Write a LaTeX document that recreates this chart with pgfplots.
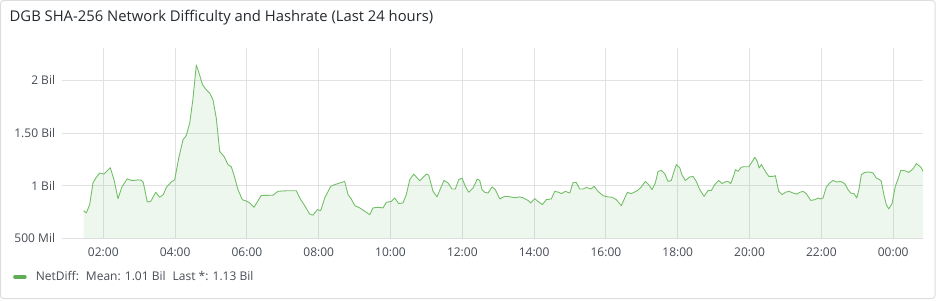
\documentclass[border=0pt]{standalone}
\usepackage{pgfplots}
\usepackage{pgfplotstable}
\pgfplotsset{compat=1.18}
\usepackage{fontspec}
\setmainfont{Open Sans}
\definecolor{gline}{HTML}{73BF69}
\definecolor{gleg}{HTML}{5FAE55}
\definecolor{gridc}{HTML}{E2E2E4}
\definecolor{frame}{HTML}{DDDDE0}
\definecolor{txt}{HTML}{24292E}
\definecolor{lbl}{HTML}{464C54}

\pgfplotstableread{
h v
1.454 0.763
1.526 0.74
1.621 0.82
1.713 1.026
1.805 1.08
1.900 1.12
2.019 1.11
2.195 1.17
2.298 1.057
2.409 0.877
2.521 0.99
2.669 1.066
2.780 1.05
2.855 1.05
2.967 1.055
3.058 1.052
3.114 1.03
3.226 0.845
3.320 0.85
3.460 0.937
3.571 0.89
3.671 0.915
3.755 0.984
3.894 1.035
3.989 1.057
4.100 1.26
4.220 1.436
4.312 1.477
4.407 1.594
4.499 1.83
4.591 2.147
4.657 2.08
4.763 1.96
4.869 1.91
4.964 1.88
5.056 1.815
5.148 1.64
5.242 1.325
5.362 1.278
5.474 1.2
5.565 1.18
5.641 1.10
5.752 0.962
5.872 0.867
6.011 0.85
6.078 0.836
6.198 0.795
6.401 0.908
6.588 0.908
6.727 0.91
6.866 0.946
7.006 0.95
7.145 0.952
7.376 0.952
7.471 0.883
7.591 0.82
7.749 0.73
7.841 0.72
7.961 0.773
8.056 0.763
8.167 0.883
8.334 0.994
8.446 1.01
8.630 1.03
8.724 1.04
8.816 0.915
8.908 0.874
9.003 0.81
9.142 0.789
9.281 0.757
9.421 0.725
9.513 0.789
9.652 0.794
9.791 0.789
9.883 0.842
10.022 0.85
10.117 0.883
10.228 0.83
10.348 0.836
10.440 0.915
10.535 1.057
10.646 1.11
10.813 1.047
10.997 1.11
11.064 1.10
11.184 0.946
11.295 0.893
11.398 0.978
11.490 1.05
11.602 1.026
11.713 0.968
11.805 0.968
11.900 1.057
11.992 1.073
12.084 0.994
12.178 0.937
12.298 0.978
12.418 1.063
12.485 1.05
12.549 0.962
12.624 0.937
12.716 0.93
12.827 0.988
12.919 0.962
13.042 0.874
13.181 0.899
13.320 0.895
13.460 0.885
13.599 0.893
13.691 0.885
13.830 0.86
13.905 0.836
14.017 0.877
14.109 0.85
14.228 0.82
14.340 0.867
14.479 0.874
14.574 0.946
14.685 0.937
14.758 0.924
14.869 0.946
14.992 0.93
15.084 1.03
15.175 1.03
15.270 0.968
15.362 0.968
15.454 0.984
15.577 0.968
15.669 0.994
15.780 0.946
15.919 0.905
16.058 0.893
16.170 0.89
16.290 0.867
16.429 0.81
16.524 0.883
16.596 0.937
16.708 0.924
16.875 0.953
16.986 0.988
17.097 1.04
17.192 1.01
17.284 0.962
17.376 1.026
17.451 1.136
17.543 1.145
17.638 1.114
17.730 1.04
17.822 1.05
17.897 1.136
17.961 1.2
18.056 1.17
18.120 1.10
18.212 1.05
18.334 1.082
18.426 1.088
18.518 1.04
18.613 0.962
18.733 0.899
18.844 0.953
18.936 0.955
19.031 1.01
19.142 1.05
19.234 1.02
19.354 1.04
19.401 1.04
19.476 1.02
19.568 1.104
19.604 1.152
19.680 1.136
19.772 1.177
19.866 1.18
19.978 1.18
20.050 1.215
20.145 1.27
20.217 1.23
20.265 1.168
20.329 1.2
20.440 1.136
20.535 1.088
20.655 1.088
20.719 1.095
20.813 0.946
20.905 0.915
20.997 0.937
21.100 0.946
21.212 0.93
21.323 0.92
21.398 0.937
21.490 0.946
21.582 0.924
21.705 0.86
21.816 0.867
21.908 0.883
21.983 0.874
22.047 0.883
22.139 0.988
22.234 1.026
22.326 1.05
22.418 1.035
22.540 1.04
22.652 1.02
22.744 0.962
22.819 0.93
22.911 0.924
22.986 0.883
23.050 0.968
23.114 1.104
23.209 1.126
23.348 1.13
23.440 1.12
23.532 1.073
23.627 1.057
23.671 1.04
23.747 0.905
23.811 0.82
23.877 0.779
23.969 0.83
24.061 0.994
24.136 1.063
24.212 1.145
24.323 1.142
24.435 1.126
24.554 1.16
24.646 1.21
24.769 1.177
24.833 1.136
}\netdiff

\begin{document}
\begin{tikzpicture}[x=1pt,y=1pt]
\path[use as bounding box] (0,0) rectangle (940,300);
\draw[frame, line width=1pt, rounded corners=3pt] (0.5,1.5) rectangle (935,299.5);
\node[anchor=west, font=\fontsize{14.8}{17}\selectfont, text=txt, inner sep=0pt] at (9.5,282) {DGB SHA-256 Network Difficulty and Hashrate (Last 24 hours)};
\begin{axis}[
  at={(62.3pt,61.7pt)}, anchor=south west,
  scale only axis, width=861pt, height=190.3pt,
  xmin=0.858, xmax=24.84, ymin=0.5, ymax=2.308,
  axis line style={draw=none},
  major tick style={draw=none}, minor tick style={draw=none},
  grid=major, grid style={gridc, line width=0.9pt},
  xtick={2,4,6,8,10,12,14,16,18,20,22,24},
  xticklabels={02:00,04:00,06:00,08:00,10:00,12:00,14:00,16:00,18:00,20:00,22:00,00:00},
  ytick={0.5,1,1.5,2},
  yticklabels={500 Mil,1 Bil,1.50 Bil,2 Bil},
  ticklabel style={font=\fontsize{12}{14}\selectfont, text=lbl, inner sep=0pt},
  xticklabel style={anchor=center, yshift=-14.4pt},
  yticklabel style={anchor=east, xshift=-7pt},
  /pgf/number format/assume math mode=true,
  legend style={at={(axis description cs:-0.0573,-0.2034)}, anchor=west, draw=none, fill=none, inner sep=0pt,
    font=\fontsize{12}{14}\selectfont, text=lbl, nodes={inner sep=0pt}},
  legend cell align=left,
  legend image code/.code={\draw[gleg, line width=3.5pt, line cap=round] (1.5pt,0pt) -- (11.5pt,0pt); \path (22pt,0pt);},
]
\addplot[draw=none, fill=gline, fill opacity=0.12, forget plot] table[x=h,y=v] {\netdiff} \closedcycle;
\addplot[gline, line width=0.9pt, line join=round] table[x=h,y=v] {\netdiff};
\addlegendentry{NetDiff:\hspace{7pt}Mean: 1.01 Bil\hspace{7pt}Last *: 1.13 Bil}
\end{axis}
\end{tikzpicture}
\end{document}
